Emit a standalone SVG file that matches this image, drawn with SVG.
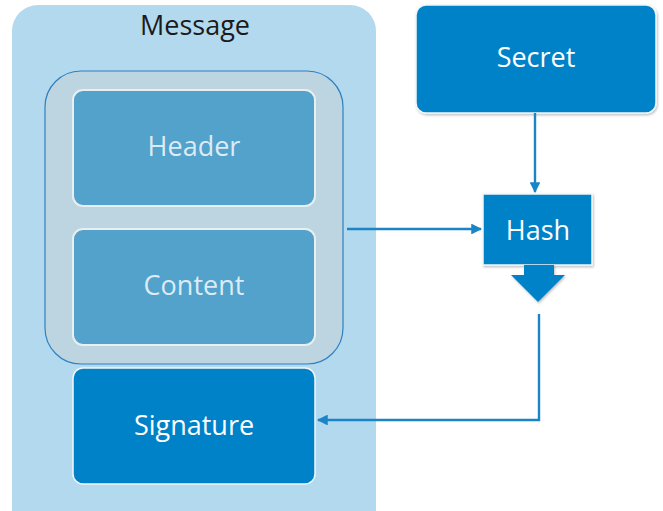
<svg xmlns="http://www.w3.org/2000/svg" width="663" height="511" viewBox="0 0 663 511">
  <defs>
    <style>
      .lbl { font-family: "Open Sans", "Liberation Sans", sans-serif; font-size: 27px; text-anchor: middle; }
      .pale { fill: #dcebf4; }
      .white { fill: #ffffff; }
      .part { fill: #52a2cc; stroke: #e9eef1; stroke-width: 2; }
      .solid { fill: #0082c8; stroke: #f2f6f8; stroke-width: 1.5; }
      .wire { fill: none; stroke: #1a85c6; stroke-width: 2.4; }
    </style>
    <marker id="tip" viewBox="0 0 10 10" refX="9" refY="5" markerWidth="4.5" markerHeight="4.5" orient="auto-start-reverse">
      <path d="M0,0 L10,5 L0,10 z" fill="#1a85c6"/>
    </marker>
    <filter id="shade" x="-10%" y="-10%" width="120%" height="120%">
      <feDropShadow dx="1" dy="1.5" stdDeviation="1.2" flood-color="#000" flood-opacity="0.25"/>
    </filter>
  </defs>

  <rect width="663" height="511" fill="#ffffff"/>

  <g id="message">
    <rect x="12" y="5" width="364" height="530" rx="26" fill="#b3d9ee"/>
    <text class="lbl" x="195" y="35" fill="#1b1b1b">Message</text>
  </g>

  <g id="signed-part">
    <rect x="45" y="71" width="298" height="293" rx="36" fill="#bdd5e1" stroke="#2e80c0" stroke-width="1.2"/>
  </g>

  <g id="header">
    <rect class="part" x="73" y="90" width="242" height="116" rx="10"/>
    <text class="lbl pale" x="194" y="156">Header</text>
  </g>

  <g id="content">
    <rect class="part" x="73" y="229" width="242" height="116" rx="10"/>
    <text class="lbl pale" x="194" y="295">Content</text>
  </g>

  <g id="signature">
    <rect class="solid" x="73" y="368" width="242" height="116" rx="10"/>
    <text class="lbl white" x="194" y="435">Signature</text>
  </g>

  <g id="secret">
    <rect class="solid" x="416" y="5" width="240" height="108" rx="10" filter="url(#shade)"/>
    <text class="lbl white" x="536" y="67">Secret</text>
  </g>

  <g id="hash">
    <rect class="solid" x="483" y="194" width="109" height="71" filter="url(#shade)"/>
    <text class="lbl white" x="538" y="240">Hash</text>
    <path d="M524,265 L554,265 L554,275 L565,275 L538,302 L511,275 L524,275 z" fill="#0082c8" filter="url(#shade)"/>
  </g>

  <g id="connectors">
    <path class="wire" d="M535,113 L535,192" marker-end="url(#tip)"/>
    <path class="wire" d="M347,229 L481,229" marker-end="url(#tip)"/>
    <path class="wire" d="M539,314 L539,420 L318,420" marker-end="url(#tip)"/>
  </g>
</svg>
